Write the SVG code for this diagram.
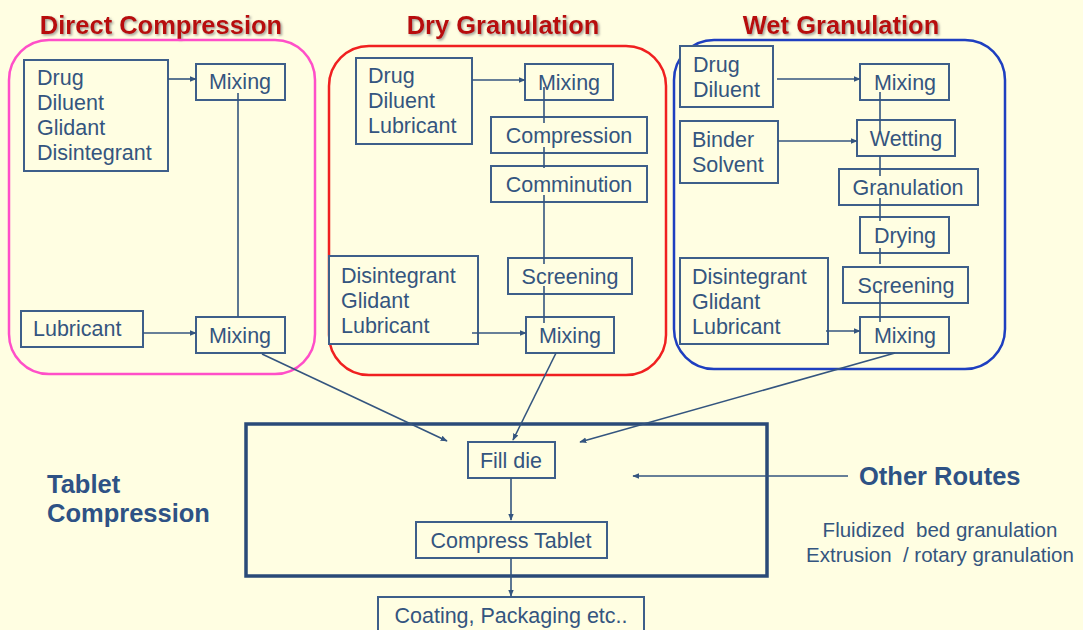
<svg xmlns="http://www.w3.org/2000/svg" width="1083" height="630" viewBox="0 0 1083 630">
<defs>
<style>
.bg{fill:#FFFEE2}
.box{fill:#FFFEE2;stroke:#3E5F8A;stroke-width:2}
.t{font-family:"Liberation Sans",Arial,sans-serif;font-size:21.5px;fill:#34557F}
.c{text-anchor:middle}
.title{font-family:"Liberation Sans",Arial,sans-serif;font-size:25.5px;font-weight:bold;fill:#B80F0F;text-anchor:middle}
.bold{font-family:"Liberation Sans",Arial,sans-serif;font-size:25.5px;font-weight:bold;fill:#2E5285}
.small{font-family:"Liberation Sans",Arial,sans-serif;font-size:20.5px;fill:#34557F;text-anchor:middle;white-space:pre}
.ln{fill:none;stroke:#34557F;stroke-width:1.6}
.ar{fill:none;stroke:#34557F;stroke-width:1.6;marker-end:url(#ah)}
</style>
<marker id="ah" viewBox="0 0 10 10" refX="9" refY="5" markerWidth="7" markerHeight="7" orient="auto" markerUnits="userSpaceOnUse">
<path d="M0,1 L10,5 L0,9 Z" fill="#34557F"/>
</marker>
<filter id="sh" x="-5%" y="-20%" width="110%" height="150%">
<feDropShadow dx="1.5" dy="1.5" stdDeviation="0.8" flood-color="#777" flood-opacity="0.7"/>
</filter>
</defs>
<rect class="bg" x="0" y="0" width="1083" height="630"/>

<g id="titles">
<text class="title" x="161" y="34" filter="url(#sh)">Direct Compression</text>
<text class="title" x="503" y="34" filter="url(#sh)">Dry Granulation</text>
<text class="title" x="841" y="34" filter="url(#sh)">Wet Granulation</text>
</g>

<g id="group-direct">
<rect x="9" y="40" width="306" height="334" rx="40" fill="none" stroke="#FF4FC8" stroke-width="2.5"/>
</g>
<g id="group-dry">
<rect x="329" y="46" width="337" height="329" rx="40" fill="none" stroke="#F02020" stroke-width="2.5"/>
</g>
<g id="group-wet">
<rect x="674" y="40" width="331" height="329" rx="40" fill="none" stroke="#1E3FC0" stroke-width="2.5"/>
</g>

<g id="dc-inputs">
<rect class="box" x="24" y="60" width="144" height="111"/>
<text class="t" x="37" y="85">Drug</text>
<text class="t" x="37" y="110">Diluent</text>
<text class="t" x="37" y="135">Glidant</text>
<text class="t" x="37" y="160">Disintegrant</text>
</g>
<g id="dc-mixing1">
<rect class="box" x="196" y="64" width="89" height="36"/>
<text class="t c" x="240" y="89">Mixing</text>
</g>
<g id="dc-lubricant">
<rect class="box" x="21" y="311" width="122" height="36"/>
<text class="t" x="33" y="336">Lubricant</text>
</g>
<g id="dc-mixing2">
<rect class="box" x="196" y="317" width="89" height="36"/>
<text class="t c" x="240" y="343">Mixing</text>
</g>

<g id="dry-inputs">
<rect class="box" x="356" y="58" width="116" height="86"/>
<text class="t" x="368" y="83">Drug</text>
<text class="t" x="368" y="108">Diluent</text>
<text class="t" x="368" y="133">Lubricant</text>
</g>
<g id="dry-mixing1">
<rect class="box" x="525" y="64" width="88" height="36"/>
<text class="t c" x="569" y="90">Mixing</text>
</g>
<g id="dry-compression">
<rect class="box" x="491" y="117" width="156" height="36"/>
<text class="t c" x="569" y="143">Compression</text>
</g>
<g id="dry-comminution">
<rect class="box" x="491" y="166" width="156" height="36"/>
<text class="t c" x="569" y="192">Comminution</text>
</g>
<g id="dry-screening">
<rect class="box" x="508" y="258" width="124" height="36"/>
<text class="t c" x="570" y="284">Screening</text>
</g>
<g id="dry-inputs2">
<rect class="box" x="329" y="256" width="149" height="88"/>
<text class="t" x="341" y="283">Disintegrant</text>
<text class="t" x="341" y="308">Glidant</text>
<text class="t" x="341" y="333">Lubricant</text>
</g>
<g id="dry-mixing2">
<rect class="box" x="526" y="317" width="88" height="36"/>
<text class="t c" x="570" y="343">Mixing</text>
</g>

<g id="wet-inputs">
<rect class="box" x="680" y="46" width="93" height="61"/>
<text class="t" x="693" y="72">Drug</text>
<text class="t" x="693" y="97">Diluent</text>
</g>
<g id="wet-mixing1">
<rect class="box" x="860" y="64" width="89" height="36"/>
<text class="t c" x="905" y="90">Mixing</text>
</g>
<g id="wet-binder">
<rect class="box" x="680" y="121" width="98" height="62"/>
<text class="t" x="692" y="147">Binder</text>
<text class="t" x="692" y="172">Solvent</text>
</g>
<g id="wet-wetting">
<rect class="box" x="857" y="120" width="98" height="36"/>
<text class="t c" x="906" y="146">Wetting</text>
</g>
<g id="wet-granulation">
<rect class="box" x="839" y="169" width="139" height="36"/>
<text class="t c" x="908" y="195">Granulation</text>
</g>
<g id="wet-drying">
<rect class="box" x="860" y="217" width="89" height="36"/>
<text class="t c" x="905" y="243">Drying</text>
</g>
<g id="wet-screening">
<rect class="box" x="843" y="267" width="125" height="36"/>
<text class="t c" x="906" y="293">Screening</text>
</g>
<g id="wet-inputs2">
<rect class="box" x="680" y="258" width="148" height="86"/>
<text class="t" x="692" y="284">Disintegrant</text>
<text class="t" x="692" y="309">Glidant</text>
<text class="t" x="692" y="334">Lubricant</text>
</g>
<g id="wet-mixing2">
<rect class="box" x="860" y="317" width="89" height="36"/>
<text class="t c" x="905" y="343">Mixing</text>
</g>

<g id="tablet-compression">
<rect x="246" y="424" width="521" height="152" fill="none" stroke="#2A4A78" stroke-width="3.5"/>
<text class="bold" x="47" y="493">Tablet</text>
<text class="bold" x="47" y="522">Compression</text>
</g>
<g id="fill-die">
<rect class="box" x="468" y="442" width="87" height="36"/>
<text class="t c" x="511" y="468">Fill die</text>
</g>
<g id="compress-tablet">
<rect class="box" x="416" y="522" width="191" height="36"/>
<text class="t c" x="511" y="548">Compress Tablet</text>
</g>
<g id="coating">
<rect class="box" x="378" y="597" width="266" height="40"/>
<text class="t c" x="511" y="623">Coating, Packaging etc..</text>
</g>
<g id="other-routes">
<text class="bold" x="859" y="485" font-size="26">Other Routes</text>
<text class="small" x="940" y="537" xml:space="preserve">Fluidized  bed granulation</text>
<text class="small" x="940" y="562" xml:space="preserve">Extrusion  / rotary granulation</text>
</g>

<g id="connectors">
<line class="ar" x1="168" y1="79" x2="196" y2="79"/>
<line class="ln" x1="238" y1="93" x2="238" y2="317"/>
<line class="ar" x1="143" y1="333" x2="196" y2="333"/>

<line class="ar" x1="472" y1="80" x2="525" y2="80"/>
<line class="ln" x1="544" y1="87" x2="544" y2="123"/>
<line class="ln" x1="544" y1="147" x2="544" y2="168"/>
<line class="ln" x1="544" y1="195" x2="544" y2="264"/>
<line class="ln" x1="544" y1="286" x2="544" y2="323"/>
<line class="ar" x1="472" y1="333" x2="526" y2="333"/>

<line class="ar" x1="777" y1="79" x2="860" y2="79"/>
<line class="ar" x1="778" y1="141" x2="857" y2="141"/>
<line class="ar" x1="826" y1="331" x2="860" y2="331"/>
<line class="ln" x1="880" y1="92" x2="880" y2="134"/>
<line class="ln" x1="880" y1="156" x2="880" y2="176"/>
<line class="ln" x1="880" y1="198" x2="880" y2="221"/>
<line class="ln" x1="880" y1="248" x2="880" y2="264"/>
<line class="ln" x1="880" y1="290" x2="880" y2="322"/>

<line class="ar" x1="262" y1="354" x2="447" y2="441"/>
<line class="ar" x1="556" y1="353" x2="513" y2="440"/>
<line class="ar" x1="895" y1="353" x2="580" y2="442"/>
<line class="ar" x1="848" y1="476" x2="633" y2="476"/>
<line class="ar" x1="511" y1="478" x2="511" y2="520"/>
<line class="ar" x1="511" y1="558" x2="511" y2="596"/>
</g>
</svg>
